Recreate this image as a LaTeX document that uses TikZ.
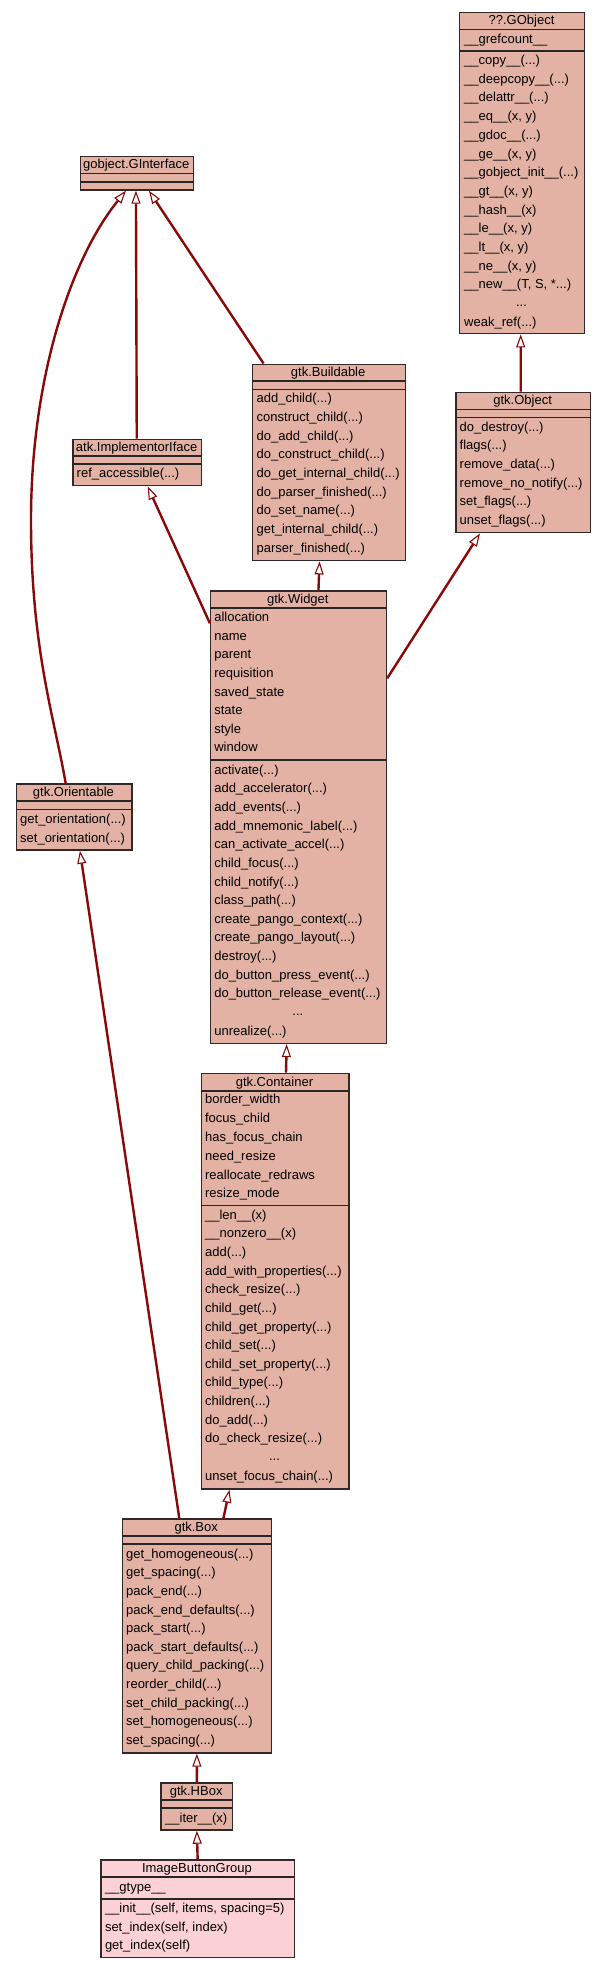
\documentclass[tikz,border=0pt]{standalone}
\usepackage{fontspec}
\setmainfont{Liberation Sans}
\usetikzlibrary{arrows.meta,calc}
\definecolor{boxfill}{RGB}{227,178,164}
\definecolor{leaffill}{RGB}{252,209,213}
\definecolor{edgecol}{RGB}{139,8,8}
\definecolor{boxline}{RGB}{51,40,40}
\newcommand\myell{...}
\tikzset{
  cls/.style={draw=boxline, line width=1.4pt, inner sep=0pt, rectangle},
  sepline/.style={draw=black!85, line width=1.6pt},
  rowtxt/.style={anchor=base west, inner sep=0pt, font=\fontsize{13}{15}\selectfont},
  titletxt/.style={anchor=base, inner sep=0pt, font=\fontsize{13}{15}\selectfont},
  inh/.style={draw=edgecol, line width=2.4pt, -{Triangle[length=13pt,width=9pt,fill=white,line width=1.1pt]}},
}
\newcommand\classrows[5]{%
  \foreach \t [count=\i from 0] in {#5} {%
    \node[rowtxt] (#1-\i) at (#2, {#3+\i*#4+4.5}) {\t};
  }}
\newcommand\classbox[8]{%
  \node[cls, fill=#8, minimum width={#3-#2}, minimum height={#7-#4}, anchor=north west] (#1) at (#2,#4) {};
  \draw[sepline] (#2,#5) -- (#3,#5);
  \draw[sepline] (#2,#6) -- (#3,#6);
}
\begin{document}
\begin{tikzpicture}[x=1pt,y=-1pt]
\useasboundingbox (0,0) rectangle (603,1968);
\fill[white] (0,0) rectangle (603,1968);

% ??.GObject
\classbox{gobj}{459}{584}{11.7}{29.3}{50.7}{333}{boxfill}
\node[titletxt] (gobj-t) at (521.5,24.8) {??.GObject};
\classrows{gobja}{464}{38.7}{18.7}{{\_\_grefcount\_\_}}
\classrows{gobjm}{464}{60}{18.7}{{\_\_copy\_\_(\myell)},{\_\_deepcopy\_\_(\myell)},{\_\_delattr\_\_(\myell)},{\_\_eq\_\_(x, y)},{\_\_gdoc\_\_(\myell)},{\_\_ge\_\_(x, y)},{\_\_gobject\_init\_\_(\myell)},{\_\_gt\_\_(x, y)},{\_\_hash\_\_(x)},{\_\_le\_\_(x, y)},{\_\_lt\_\_(x, y)},{\_\_ne\_\_(x, y)},{\_\_new\_\_(T, S, *\myell)}}
\node[titletxt] (gobj-d) at (521.5,{60+13*18.7+3}) {\myell};
\classrows{gobjw}{464}{322}{18.7}{{weak\_ref(\myell)}}

% gobject.GInterface
\classbox{gi}{80}{192.5}{155.7}{173.3}{181.7}{189.3}{boxfill}
\node[titletxt] (gi-t) at (136.25,168.5) {gobject.GInterface};

% gtk.Buildable
\classbox{build}{251.6}{404.7}{363.5}{381}{389.3}{560}{boxfill}
\node[titletxt] (build-t) at (328.15,376.5) {gtk.Buildable};
\classrows{buildm}{256.5}{398.3}{18.67}{{add\_child(\myell)},{construct\_child(\myell)},{do\_add\_child(\myell)},{do\_construct\_child(\myell)},{do\_get\_internal\_child(\myell)},{do\_parser\_finished(\myell)},{do\_set\_name(\myell)},{get\_internal\_child(\myell)},{parser\_finished(\myell)}}

% gtk.Object
\classbox{obj}{455.3}{589.9}{391.7}{409.3}{417.3}{532}{boxfill}
\node[titletxt] (obj-t) at (522.6,404.5) {gtk.Object};
\classrows{objm}{459.5}{426.7}{18.66}{{do\_destroy(\myell)},{flags(\myell)},{remove\_data(\myell)},{remove\_no\_notify(\myell)},{set\_flags(\myell)},{unset\_flags(\myell)}}

% atk.ImplementorIface
\classbox{impl}{72.3}{201}{438.7}{456}{464}{485}{boxfill}
\node[titletxt] (impl-t) at (136.65,451) {atk.ImplementorIface};
\classrows{implm}{76.5}{473.3}{18.66}{{ref\_accessible(\myell)}}

% gtk.Widget
\classbox{widget}{209.9}{385.8}{590.3}{607.7}{760}{1042.7}{boxfill}
\node[titletxt] (widget-t) at (297.85,603.5) {gtk.Widget};
\classrows{widgeta}{214.1}{617.3}{18.57}{allocation,name,parent,requisition,{saved\_state},state,style,window}
\classrows{widgetm}{214.1}{769.7}{18.64}{{activate(\myell)},{add\_accelerator(\myell)},{add\_events(\myell)},{add\_mnemonic\_label(\myell)},{can\_activate\_accel(\myell)},{child\_focus(\myell)},{child\_notify(\myell)},{class\_path(\myell)},{create\_pango\_context(\myell)},{create\_pango\_layout(\myell)},{destroy(\myell)},{do\_button\_press\_event(\myell)},{do\_button\_release\_event(\myell)}}
\node[titletxt] (widget-d) at (297.85,{769.7+13*18.64+3}) {\myell};
\classrows{widgetu}{214.1}{1030.7}{18.64}{{unrealize(\myell)}}

% gtk.Orientable
\classbox{orient}{15.5}{131.4}{783.3}{801}{809.3}{849.3}{boxfill}
\node[titletxt] (orient-t) at (73.45,796.5) {gtk.Orientable};
\classrows{orientm}{20}{818.7}{19}{{get\_orientation(\myell)},{set\_orientation(\myell)}}

% gtk.Container
\classbox{cont}{200.6}{348.3}{1072.7}{1090.7}{1205.3}{1488.3}{boxfill}
\node[titletxt] (cont-t) at (274.45,1086) {gtk.Container};
\classrows{conta}{204.9}{1099.3}{18.8}{{border\_width},{focus\_child},{has\_focus\_chain},{need\_resize},{reallocate\_redraws},{resize\_mode}}
\classrows{contm}{204.9}{1214.7}{18.64}{{\_\_len\_\_(x)},{\_\_nonzero\_\_(x)},{add(\myell)},{add\_with\_properties(\myell)},{check\_resize(\myell)},{child\_get(\myell)},{child\_get\_property(\myell)},{child\_set(\myell)},{child\_set\_property(\myell)},{child\_type(\myell)},{children(\myell)},{do\_add(\myell)},{do\_check\_resize(\myell)}}
\node[titletxt] (cont-d) at (274.45,{1214.7+13*18.64+3}) {\myell};
\classrows{contu}{204.9}{1475.7}{18.64}{{unset\_focus\_chain(\myell)}}

% gtk.Box
\classbox{box}{121.8}{270.6}{1518.3}{1535.7}{1543.7}{1752.3}{boxfill}
\node[titletxt] (box-t) at (196.2,1531) {gtk.Box};
\classrows{boxm}{126}{1553.7}{18.6}{{get\_homogeneous(\myell)},{get\_spacing(\myell)},{pack\_end(\myell)},{pack\_end\_defaults(\myell)},{pack\_start(\myell)},{pack\_start\_defaults(\myell)},{query\_child\_packing(\myell)},{reorder\_child(\myell)},{set\_child\_packing(\myell)},{set\_homogeneous(\myell)},{set\_spacing(\myell)}}

% gtk.HBox
\classbox{hbox}{160.4}{231.9}{1782.3}{1799.7}{1808}{1829.3}{boxfill}
\node[titletxt] (hbox-t) at (196.15,1795) {gtk.HBox};
\classrows{hboxm}{165}{1817.7}{18.6}{{\_\_iter\_\_(x)}}

% ImageButtonGroup
\classbox{ibg}{100.1}{293.8}{1859.3}{1877}{1898.7}{1957}{leaffill}
\node[titletxt] (ibg-t) at (196.95,1872.5) {ImageButtonGroup};
\classrows{ibga}{104.8}{1886.7}{18.8}{{\_\_gtype\_\_}}
\classrows{ibgm}{104.8}{1907.7}{18.8}{{\_\_init\_\_(self, items, spacing=5)},{set\_index(self, index)},{get\_index(self)}}

% inheritance edges
\draw[inh] ($(orient.north)+(-8.5,0)$) .. controls (55,720) and (31,650) .. (31,520)
  .. controls (31,380) and (70,260) .. ($(gi.south)+(-11,0)$);
\draw[inh] ($(impl.north)+(-0.6,0)$) -- ($(gi.south)+(-1,0)$);
\draw[inh] ($(build.north)+(-65.3,0)$) -- ($(gi.south)+(12,0)$);
\draw[inh] ($(obj.north)+(-2.6,0)$) -- ($(gobj.south)+(-1.5,0)$);
\draw[inh] ($(widget.north)+(19.9,0)$) -- ($(build.south)+(-9.3,0)$);
\draw[inh] ($(widget.north west)+(0,33)$) -- ($(impl.south)+(10.3,0)$);
\draw[inh] ($(widget.north east)+(0,88)$) -- ($(obj.south)+(-43.3,0)$);
\draw[inh] ($(box.north)+(-17.6,0)$) -- ($(orient.south)+(5.75,0)$);
\draw[inh] ($(cont.north)+(10.85,0)$) -- ($(widget.south)+(-11.85,0)$);
\draw[inh] ($(box.north)+(26.5,0)$) -- ($(cont.south)+(-45.65,0)$);
\draw[inh] (hbox.north) -- (box.south);
\draw[inh] (ibg.north) -- (hbox.south);
\end{tikzpicture}
\end{document}
